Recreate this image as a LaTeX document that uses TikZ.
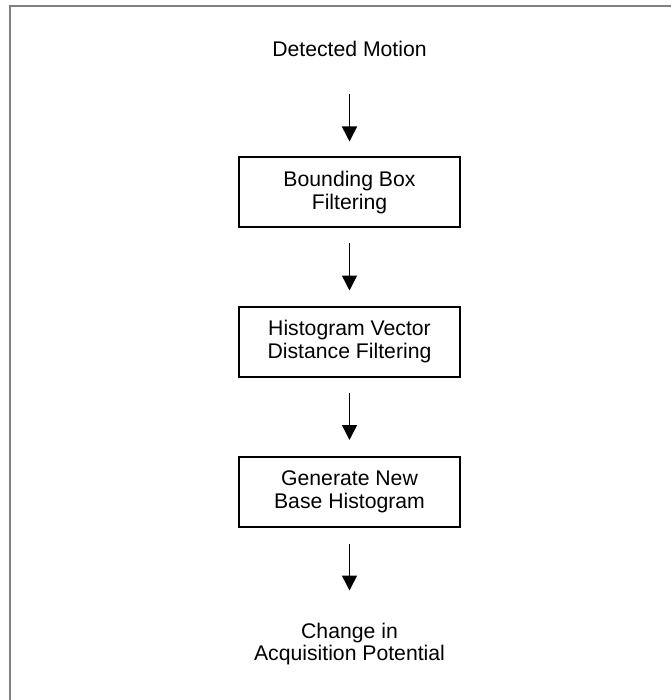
\documentclass[tikz,border=0pt]{standalone}
\usepackage{fontspec}
\setmainfont{Liberation Sans}
\usetikzlibrary{arrows.meta}
\begin{document}
\begin{tikzpicture}[x=1pt,y=-1pt,
  every node/.style={font=\fontsize{21.2}{22.5}\selectfont, align=center},
  procbox/.style={draw=black, line width=2pt, minimum width=221pt, minimum height=70pt, inner sep=0pt},
  plain/.style={inner sep=0pt},
  flow/.style={line width=1.5pt, -{Triangle[width=15pt,length=15pt]}},
  frame/.style={draw={rgb,255:red,128;green,128;blue,128}, line width=2pt}
]
\useasboundingbox (0,0) rectangle (671,700);
\draw[frame] (9.5,700) -- (9.5,6.5) -- (671,6.5);

\node[plain, anchor=base] (dm) at (349.5,57) {Detected Motion};
\node[procbox] (b1) at (349.5,192.5) {Bounding Box\\Filtering};
\node[procbox] (b2) at (349.5,341.5) {Histogram Vector\\Distance Filtering};
\node[procbox] (b3) at (349.5,492) {Generate New\\Base Histogram};
\node[plain, anchor=north] (cp) at (349.5,622.5) {Change in\\Acquisition Potential};

\draw[flow, shorten <=37pt, shorten >=15pt] (dm.south) -- (b1.north);
\draw[flow, shorten <=15pt, shorten >=15pt] (b1.south) -- (b2.north);
\draw[flow, shorten <=15pt, shorten >=16pt] (b2.south) -- (b3.north);
\draw[flow, shorten <=16pt, shorten >=32pt] (b3.south) -- (cp.north);
\end{tikzpicture}
\end{document}
